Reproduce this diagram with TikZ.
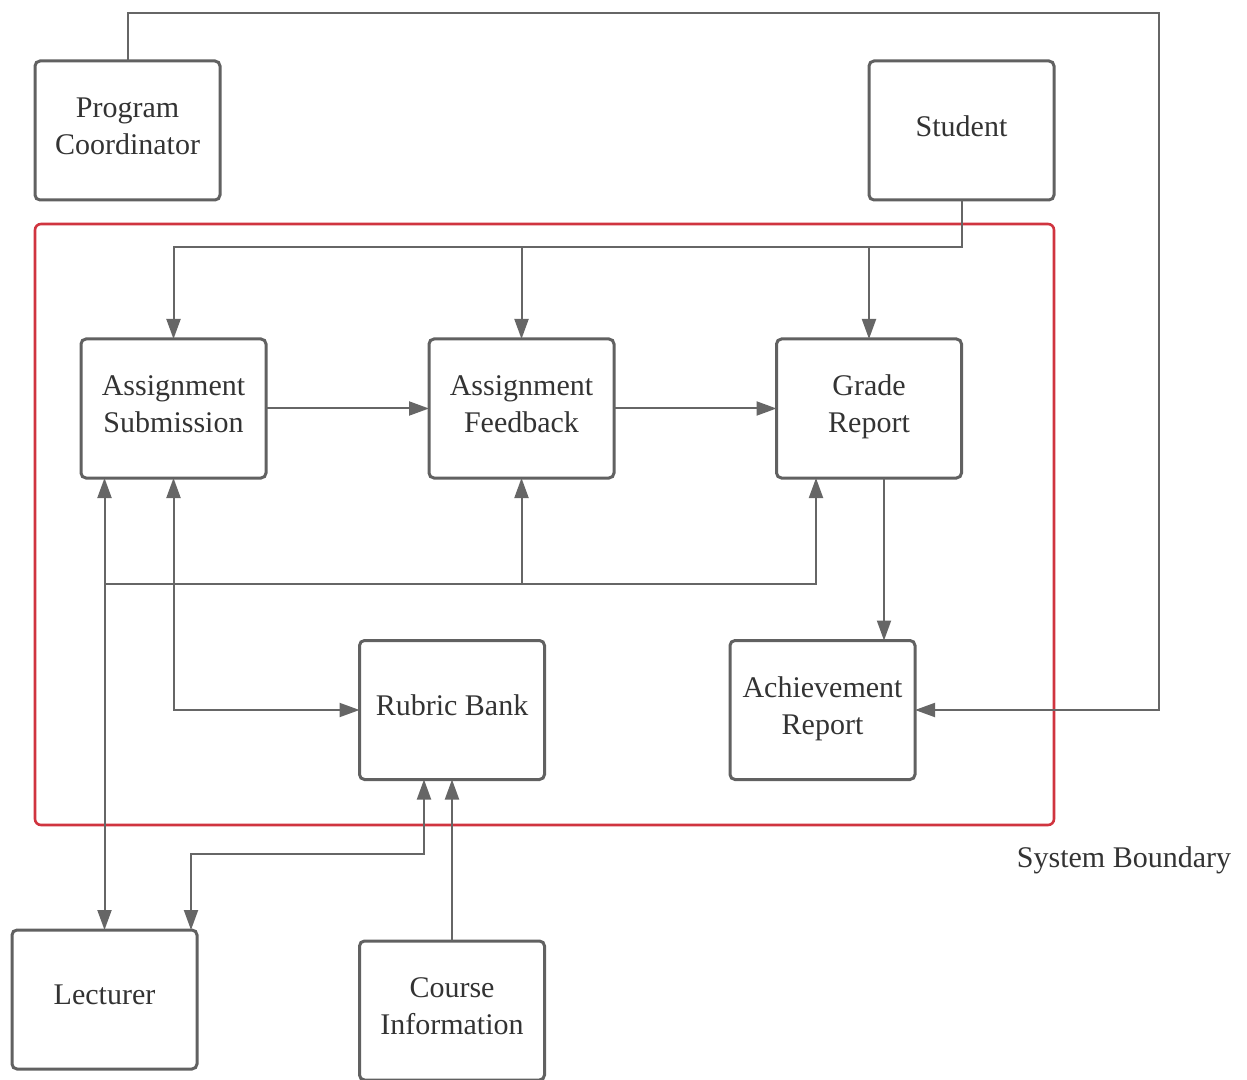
\documentclass[tikz,border=0pt]{standalone}
\usepackage{fontspec}
\setmainfont{Liberation Serif}
\usetikzlibrary{arrows.meta,calc}
\definecolor{boxgray}{HTML}{616161}
\definecolor{linegray}{HTML}{666666}
\definecolor{bred}{HTML}{D0343F}
\definecolor{txt}{HTML}{333333}
\tikzset{
  ent/.style={draw=boxgray, line width=1.5pt, rounded corners=2.5pt, minimum width=92.5pt, minimum height=69.5pt, inner sep=0pt, outer sep=0pt, align=center, text=txt, text depth=4.5pt, font=\fontsize{15}{18.5}\selectfont},
  conn/.style={draw=linegray, line width=1pt, >={Triangle[length=10pt,width=7pt]}},
}
\begin{document}
\begin{tikzpicture}[x=0.5pt,y=-0.5pt]
\useasboundingbox (0,0) rectangle (1247,1080);
% system boundary
\draw[bred, line width=1.3pt, rounded corners=3pt] (35,224) rectangle (1054,825);
\node[text=txt, font=\fontsize{15}{18.5}\selectfont] (sb) at (1124,860) {System Boundary};
% nodes
\node[ent] (pc) at (127.5,130.5) {Program\\Coordinator};
\node[ent] (st) at (961.5,130.5) {Student};
\node[ent] (as) at (173.5,408.5) {Assignment\\Submission};
\node[ent] (af) at (521.5,408.5) {Assignment\\Feedback};
\node[ent] (gr) at (869,408.5) {Grade\\Report};
\node[ent] (rb) at (452,710) {Rubric Bank};
\node[ent] (ar) at (822.5,710) {Achievement\\Report};
\node[ent] (lec) at (104.5,999.5) {Lecturer};
\node[ent] (ci) at (452,1010.5) {Course\\Information};
% helper coordinates
\coordinate (top) at (1159,13);
\coordinate (sbus) at (0,247);
\coordinate (lbus) at (0,584);
\coordinate (rbus) at (0,854);
% connectors
\draw[conn,->] (pc.north) |- (top) |- (ar.east);
\draw[conn,->] (st.south) |- (sbus -| as.north) -- (as.north);
\draw[conn,->] (af.north |- sbus) -- (af.north);
\draw[conn,->] (gr.north |- sbus) -- (gr.north);
\draw[conn,->] (as.east) -- (af.west);
\draw[conn,->] (af.east) -- (gr.west);
\draw[conn,->] ($(gr.south)+(15,0)$) -- ($(ar.north)+(61.5,0)$);
\draw[conn,<->] (as.south -| lec.north) -- (lec.north);
\draw[conn,->] (lbus -| lec.north) -| (af.south);
\draw[conn,->] (lbus -| af.south) -| ($(gr.south)+(-53,0)$);
\draw[conn,<->] (as.south) |- (rb.west);
\draw[conn,<->] ($(rb.south)+(-28,0)$) |- (rbus -| {$(lec.north)+(86.5,0)$}) -- ($(lec.north)+(86.5,0)$);
\draw[conn,->] (ci.north) -- (rb.south);
\end{tikzpicture}
\end{document}
